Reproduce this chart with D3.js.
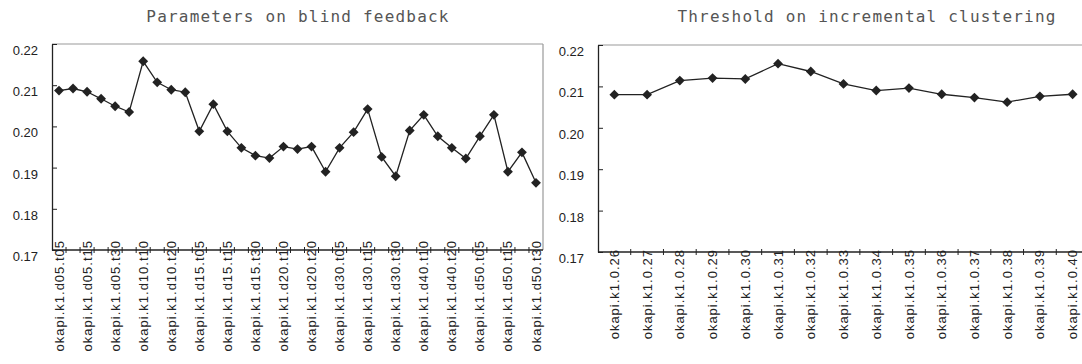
<!DOCTYPE html>
<html>
<head>
<meta charset="utf-8">
<script src="https://cdn.jsdelivr.net/npm/d3@7"></script>
<style>
  body { margin: 0; background: #fff; }
  svg { display: block; }
</style>
</head>
<body>
<div id="chart"></div>
<script>
// Left panel: blind feedback parameters
const feedbackLabels = [
  'okapi.k1.d05.t05', 'okapi.k1.d05.t10', 'okapi.k1.d05.t15', 'okapi.k1.d05.t20', 'okapi.k1.d05.t30',
  'okapi.k1.d10.t05', 'okapi.k1.d10.t10', 'okapi.k1.d10.t15', 'okapi.k1.d10.t20', 'okapi.k1.d10.t30',
  'okapi.k1.d15.t05', 'okapi.k1.d15.t10', 'okapi.k1.d15.t15', 'okapi.k1.d15.t20', 'okapi.k1.d15.t30',
  'okapi.k1.d20.t05', 'okapi.k1.d20.t10', 'okapi.k1.d20.t15', 'okapi.k1.d20.t20', 'okapi.k1.d20.t30',
  'okapi.k1.d30.t05', 'okapi.k1.d30.t10', 'okapi.k1.d30.t15', 'okapi.k1.d30.t20', 'okapi.k1.d30.t30',
  'okapi.k1.d40.t05', 'okapi.k1.d40.t10', 'okapi.k1.d40.t15', 'okapi.k1.d40.t20', 'okapi.k1.d40.t30',
  'okapi.k1.d50.t05', 'okapi.k1.d50.t10', 'okapi.k1.d50.t15', 'okapi.k1.d50.t20', 'okapi.k1.d50.t30'
];
const feedbackValues = [
  0.2087, 0.2092, 0.2084, 0.2067, 0.2049,
  0.2035, 0.2158, 0.2107, 0.2089, 0.2083,
  0.1988, 0.2054, 0.1988, 0.1948, 0.1929,
  0.1923, 0.1951, 0.1945, 0.1951, 0.1890,
  0.1948, 0.1986, 0.2042, 0.1926, 0.1879,
  0.1990, 0.2028, 0.1976, 0.1948, 0.1922,
  0.1976, 0.2028, 0.1890, 0.1937, 0.1863
];

// Right panel: clustering threshold
const thresholdLabels = [
  'okapi.k1.0.26', 'okapi.k1.0.27', 'okapi.k1.0.28', 'okapi.k1.0.29', 'okapi.k1.0.30',
  'okapi.k1.0.31', 'okapi.k1.0.32', 'okapi.k1.0.33', 'okapi.k1.0.34', 'okapi.k1.0.35',
  'okapi.k1.0.36', 'okapi.k1.0.37', 'okapi.k1.0.38', 'okapi.k1.0.39', 'okapi.k1.0.40'
];
const thresholdValues = [
  0.2080, 0.2080, 0.2114, 0.2120, 0.2118,
  0.2155, 0.2136, 0.2106, 0.2090, 0.2096,
  0.2081, 0.2073, 0.2062, 0.2076, 0.2081
];

const yTicks = [0.17, 0.18, 0.19, 0.20, 0.21, 0.22];

const svg = d3.select('#chart')
  .append('svg')
  .attr('width', 1082)
  .attr('height', 364);

const drawPanel = (opts) => {
  const { labels, values, title, titleX, left, right, top, bottom, labelEvery, labelGap } = opts;

  const x = d3.scaleBand()
    .domain(labels)
    .range([left, right])
    .padding(0);

  const y = d3.scaleLinear()
    .domain([0.17, 0.22])
    .range([bottom, top]);

  const g = svg.append('g');

  // Title
  g.append('text')
    .attr('x', titleX)
    .attr('y', 22)
    .attr('text-anchor', 'middle')
    .attr('font-family', '"DejaVu Sans Mono", monospace')
    .attr('font-size', '16px')
    .attr('letter-spacing', '1.2px')
    .attr('fill', '#555')
    .text(title);

  // Gray top and right frame
  g.append('line')
    .attr('x1', left).attr('x2', right)
    .attr('y1', top).attr('y2', top)
    .attr('stroke', '#999').attr('stroke-width', 1.2);
  g.append('line')
    .attr('x1', right).attr('x2', right)
    .attr('y1', top).attr('y2', bottom)
    .attr('stroke', '#999').attr('stroke-width', 1.2);

  // Y axis
  const yAxis = g.append('g')
    .attr('transform', `translate(${left},0)`)
    .call(d3.axisRight(y).tickValues(yTicks).tickFormat(d3.format('.2f')).tickSize(5).tickSizeOuter(0));
  yAxis.select('.domain').attr('stroke', '#222').attr('stroke-width', 1.3);
  yAxis.selectAll('.tick line').attr('stroke', '#222');
  yAxis.selectAll('.tick text')
    .attr('x', -14)
    .attr('dy', '0.8em')
    .attr('text-anchor', 'end')
    .attr('font-family', '"Liberation Sans", Arial, sans-serif')
    .attr('font-size', '13px')
    .attr('fill', '#222');

  // X axis line with ticks between categories
  g.append('line')
    .attr('x1', left).attr('x2', right)
    .attr('y1', bottom).attr('y2', bottom)
    .attr('stroke', '#222').attr('stroke-width', 1.3);
  g.selectAll('.xtick')
    .data(labels.slice(1))
    .enter()
    .append('line')
    .attr('class', 'xtick')
    .attr('x1', d => x(d)).attr('x2', d => x(d))
    .attr('y1', bottom - 3).attr('y2', bottom + 3)
    .attr('stroke', '#222');

  // X labels, rotated
  g.selectAll('.xlabel')
    .data(labels.filter((d, i) => i % labelEvery === 0))
    .enter()
    .append('text')
    .attr('class', 'xlabel')
    .attr('transform', d => `translate(${x(d) + x.bandwidth() / 2},${bottom - labelGap}) rotate(-90)`)
    .attr('text-anchor', 'end')
    .attr('dy', '0.35em')
    .attr('font-family', '"Liberation Sans", Arial, sans-serif')
    .attr('font-size', '13px')
    .attr('letter-spacing', '1px')
    .attr('fill', '#222')
    .text(d => d);

  // Line
  const line = d3.line()
    .x((d, i) => x(labels[i]) + x.bandwidth() / 2)
    .y(d => y(d));

  g.append('path')
    .datum(values)
    .attr('d', line)
    .attr('fill', 'none')
    .attr('stroke', '#222')
    .attr('stroke-width', 1.3);

  // Diamond markers
  g.selectAll('.marker')
    .data(values)
    .enter()
    .append('path')
    .attr('class', 'marker')
    .attr('d', d3.symbol().type(d3.symbolDiamond2).size(62))
    .attr('transform', (d, i) => `translate(${x(labels[i]) + x.bandwidth() / 2},${y(d)})`)
    .attr('fill', '#222');
};

drawPanel({
  labels: feedbackLabels,
  values: feedbackValues,
  title: 'Parameters on blind feedback',
  titleX: 298,
  left: 52, right: 543, top: 44, bottom: 250,
  labelEvery: 2,
  labelGap: 10
});

drawPanel({
  labels: thresholdLabels,
  values: thresholdValues,
  title: 'Threshold on incremental clustering',
  titleX: 867,
  left: 598, right: 1089, top: 45, bottom: 252,
  labelEvery: 1,
  labelGap: 3
});
</script>
</body>
</html>
